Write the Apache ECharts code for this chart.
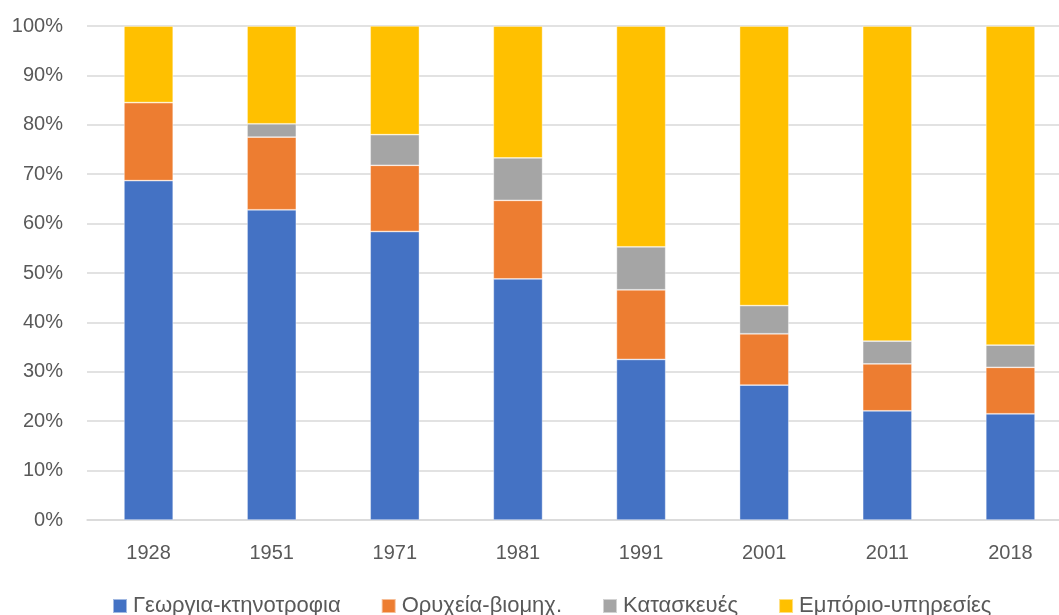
<!DOCTYPE html>
<html>
<head>
<meta charset="utf-8">
<script src="https://cdn.jsdelivr.net/npm/echarts@6/dist/echarts.min.js"></script>
<style>html,body{margin:0;padding:0;background:#fff}#c{width:1059px;height:615px}</style>
</head>
<body>
<div id="c"></div>
<script>
const categories = ['1928','1951','1971','1981','1991','2001','2011','2018'];
const seriesNames = ['Γεωργια-κτηνοτροφια','Ορυχεία-βιομηχ.','Κατασκευές','Εμπόριο-υπηρεσίες'];
const agriculture = [68.7, 62.8, 58.4, 48.8, 32.5, 27.3, 22.1, 21.5];
const industry    = [15.8, 14.7, 13.4, 15.9, 14.1, 10.4,  9.5,  9.4];
const construction= [ 0.0,  2.7,  6.2,  8.6,  8.7,  5.7,  4.6,  4.5];
const services    = [15.5, 19.8, 22.0, 26.7, 44.7, 56.6, 63.8, 64.6];
const colors = ['#4472C4','#ED7D31','#A5A5A5','#FFC000'];

const dataSets = [agriculture, industry, construction, services];
const font = '"Liberation Sans", Arial, sans-serif';
const chart = echarts.init(document.getElementById('c'), null, {renderer:'canvas'});
chart.setOption({
  animation: false,
  color: colors,
  grid: {left: 87, width: 985, top: 26, height: 494, containLabel: false, outerBoundsMode: 'none'},
  legend: {
    left: 112, top: 595, padding: 0,
    itemWidth: 14, itemHeight: 14, itemGap: 40,
    icon: 'rect',
    textStyle: {fontFamily: font, fontSize: 22, color: '#595959', padding: [0,0,0,1]},
    data: seriesNames
  },
  xAxis: {
    type: 'category', data: categories,
    axisLine: {lineStyle: {color: '#d9d9d9', width: 1.5}},
    axisTick: {show: false},
    axisLabel: {fontFamily: font, fontSize: 20, color: '#595959', margin: 23}
  },
  yAxis: {
    type: 'value', min: 0, max: 100, interval: 10,
    axisLine: {show: false}, axisTick: {show: false},
    splitLine: {lineStyle: {color: '#d9d9d9', width: 1.5}},
    axisLabel: {fontFamily: font, fontSize: 20, color: '#595959', margin: 24, formatter: '{value}%'}
  },
  series: dataSets.map((d, i) => ({
    name: seriesNames[i], type: 'bar', stack: 'total', data: d,
    barWidth: '40%',
    itemStyle: {color: colors[i], borderColor: 'rgba(255,255,255,0.5)', borderWidth: 0.75}
  }))
});
</script>
</body>
</html>
